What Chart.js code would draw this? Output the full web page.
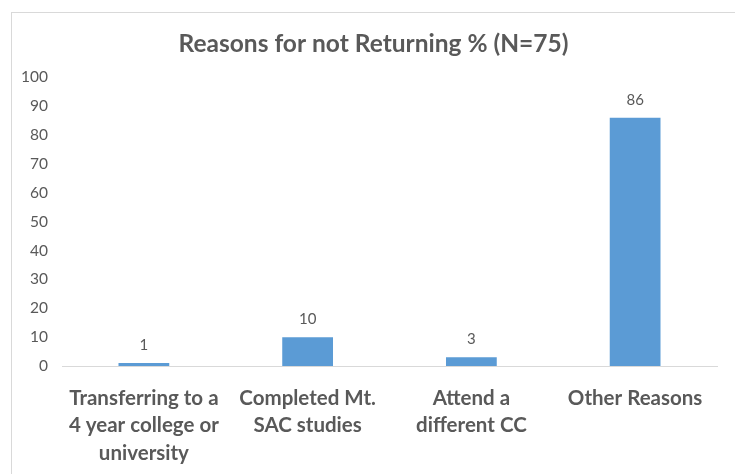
<!DOCTYPE html>
<html>
<head>
<meta charset="utf-8">
<script src="https://cdn.jsdelivr.net/npm/chart.js@4"></script>
<style>
  html, body { margin: 0; padding: 0; background: #ffffff; }
  body { width: 735px; height: 474px; position: relative; overflow: hidden; }
  #frame { position: absolute; left: 11px; top: 12px; width: 724px; height: 462px;
           border-left: 1px solid #d9d9d9; border-top: 1px solid #d9d9d9; }
  #wrap { position: absolute; left: 12px; top: 13px; width: 723px; height: 461px; }
</style>
</head>
<body>
<div id="frame"></div>
<div id="wrap"><canvas id="c" width="723" height="461"></canvas></div>
<script>
const titleText = "Reasons for not Returning % (N=75)";
const categories = [
  ["Transferring to a", "4 year college or", "university"],
  ["Completed Mt.", "SAC studies"],
  ["Attend a", "different CC"],
  ["Other Reasons"]
];
const values = [1, 10, 3, 86];
const yTicks = [0, 10, 20, 30, 40, 50, 60, 70, 80, 90, 100];

const textColor = "#595959";
const fontFamily = "Lato, 'Open Sans', sans-serif";

const dataLabels = {
  id: "dataLabels",
  afterDatasetsDraw(chart) {
    const ctx = chart.ctx;
    const meta = chart.getDatasetMeta(0);
    ctx.save();
    ctx.fillStyle = textColor;
    ctx.font = "15px " + fontFamily;
    ctx.textAlign = "center";
    ctx.textBaseline = "middle";
    meta.data.forEach((bar, i) => {
      ctx.fillText(String(values[i]), bar.x, bar.y - 18);
    });
    ctx.restore();
  }
};

// center the title over the full chart width
const centerTitle = {
  id: "centerTitle",
  afterLayout(chart) {
    const t = chart.titleBlock;
    if (t) { t.left = 0; t.right = chart.width; t.width = chart.width; }
  }
};

new Chart(document.getElementById("c"), {
  type: "bar",
  data: {
    labels: categories,
    datasets: [{
      data: values,
      backgroundColor: "#5b9bd5",
      borderWidth: 0,
      categoryPercentage: 1,
      barPercentage: 0.31
    }]
  },
  options: {
    responsive: false,
    animation: false,
    events: [],
    layout: { padding: { left: 0, right: 18, top: 16, bottom: 0 } },
    plugins: {
      legend: { display: false },
      tooltip: { enabled: false },
      title: {
        display: true,
        text: titleText,
        color: textColor,
        font: { family: fontFamily, size: 24.5, weight: "bold", lineHeight: 1.2 },
        padding: { top: 0, bottom: 19 }
      }
    },
    scales: {
      y: {
        min: 0,
        max: 100,
        afterBuildTicks(scale) { scale.ticks = yTicks.map(v => ({ value: v })); },
        afterFit(scale) { scale.width = 50; },
        grid: { display: false, drawTicks: false },
        border: { display: false },
        ticks: { color: textColor, padding: 14, font: { family: fontFamily, size: 15.5 } }
      },
      x: {
        afterFit(scale) { scale.height = 108; },
        grid: { display: false, drawTicks: false },
        border: { display: true, color: "#d9d9d9", width: 1 },
        ticks: {
          color: textColor, padding: 18, maxRotation: 0, autoSkip: false,
          font: { family: fontFamily, size: 20.5, weight: "bold", lineHeight: 1.36 }
        }
      }
    }
  },
  plugins: [dataLabels, centerTitle]
});
</script>
</body>
</html>
